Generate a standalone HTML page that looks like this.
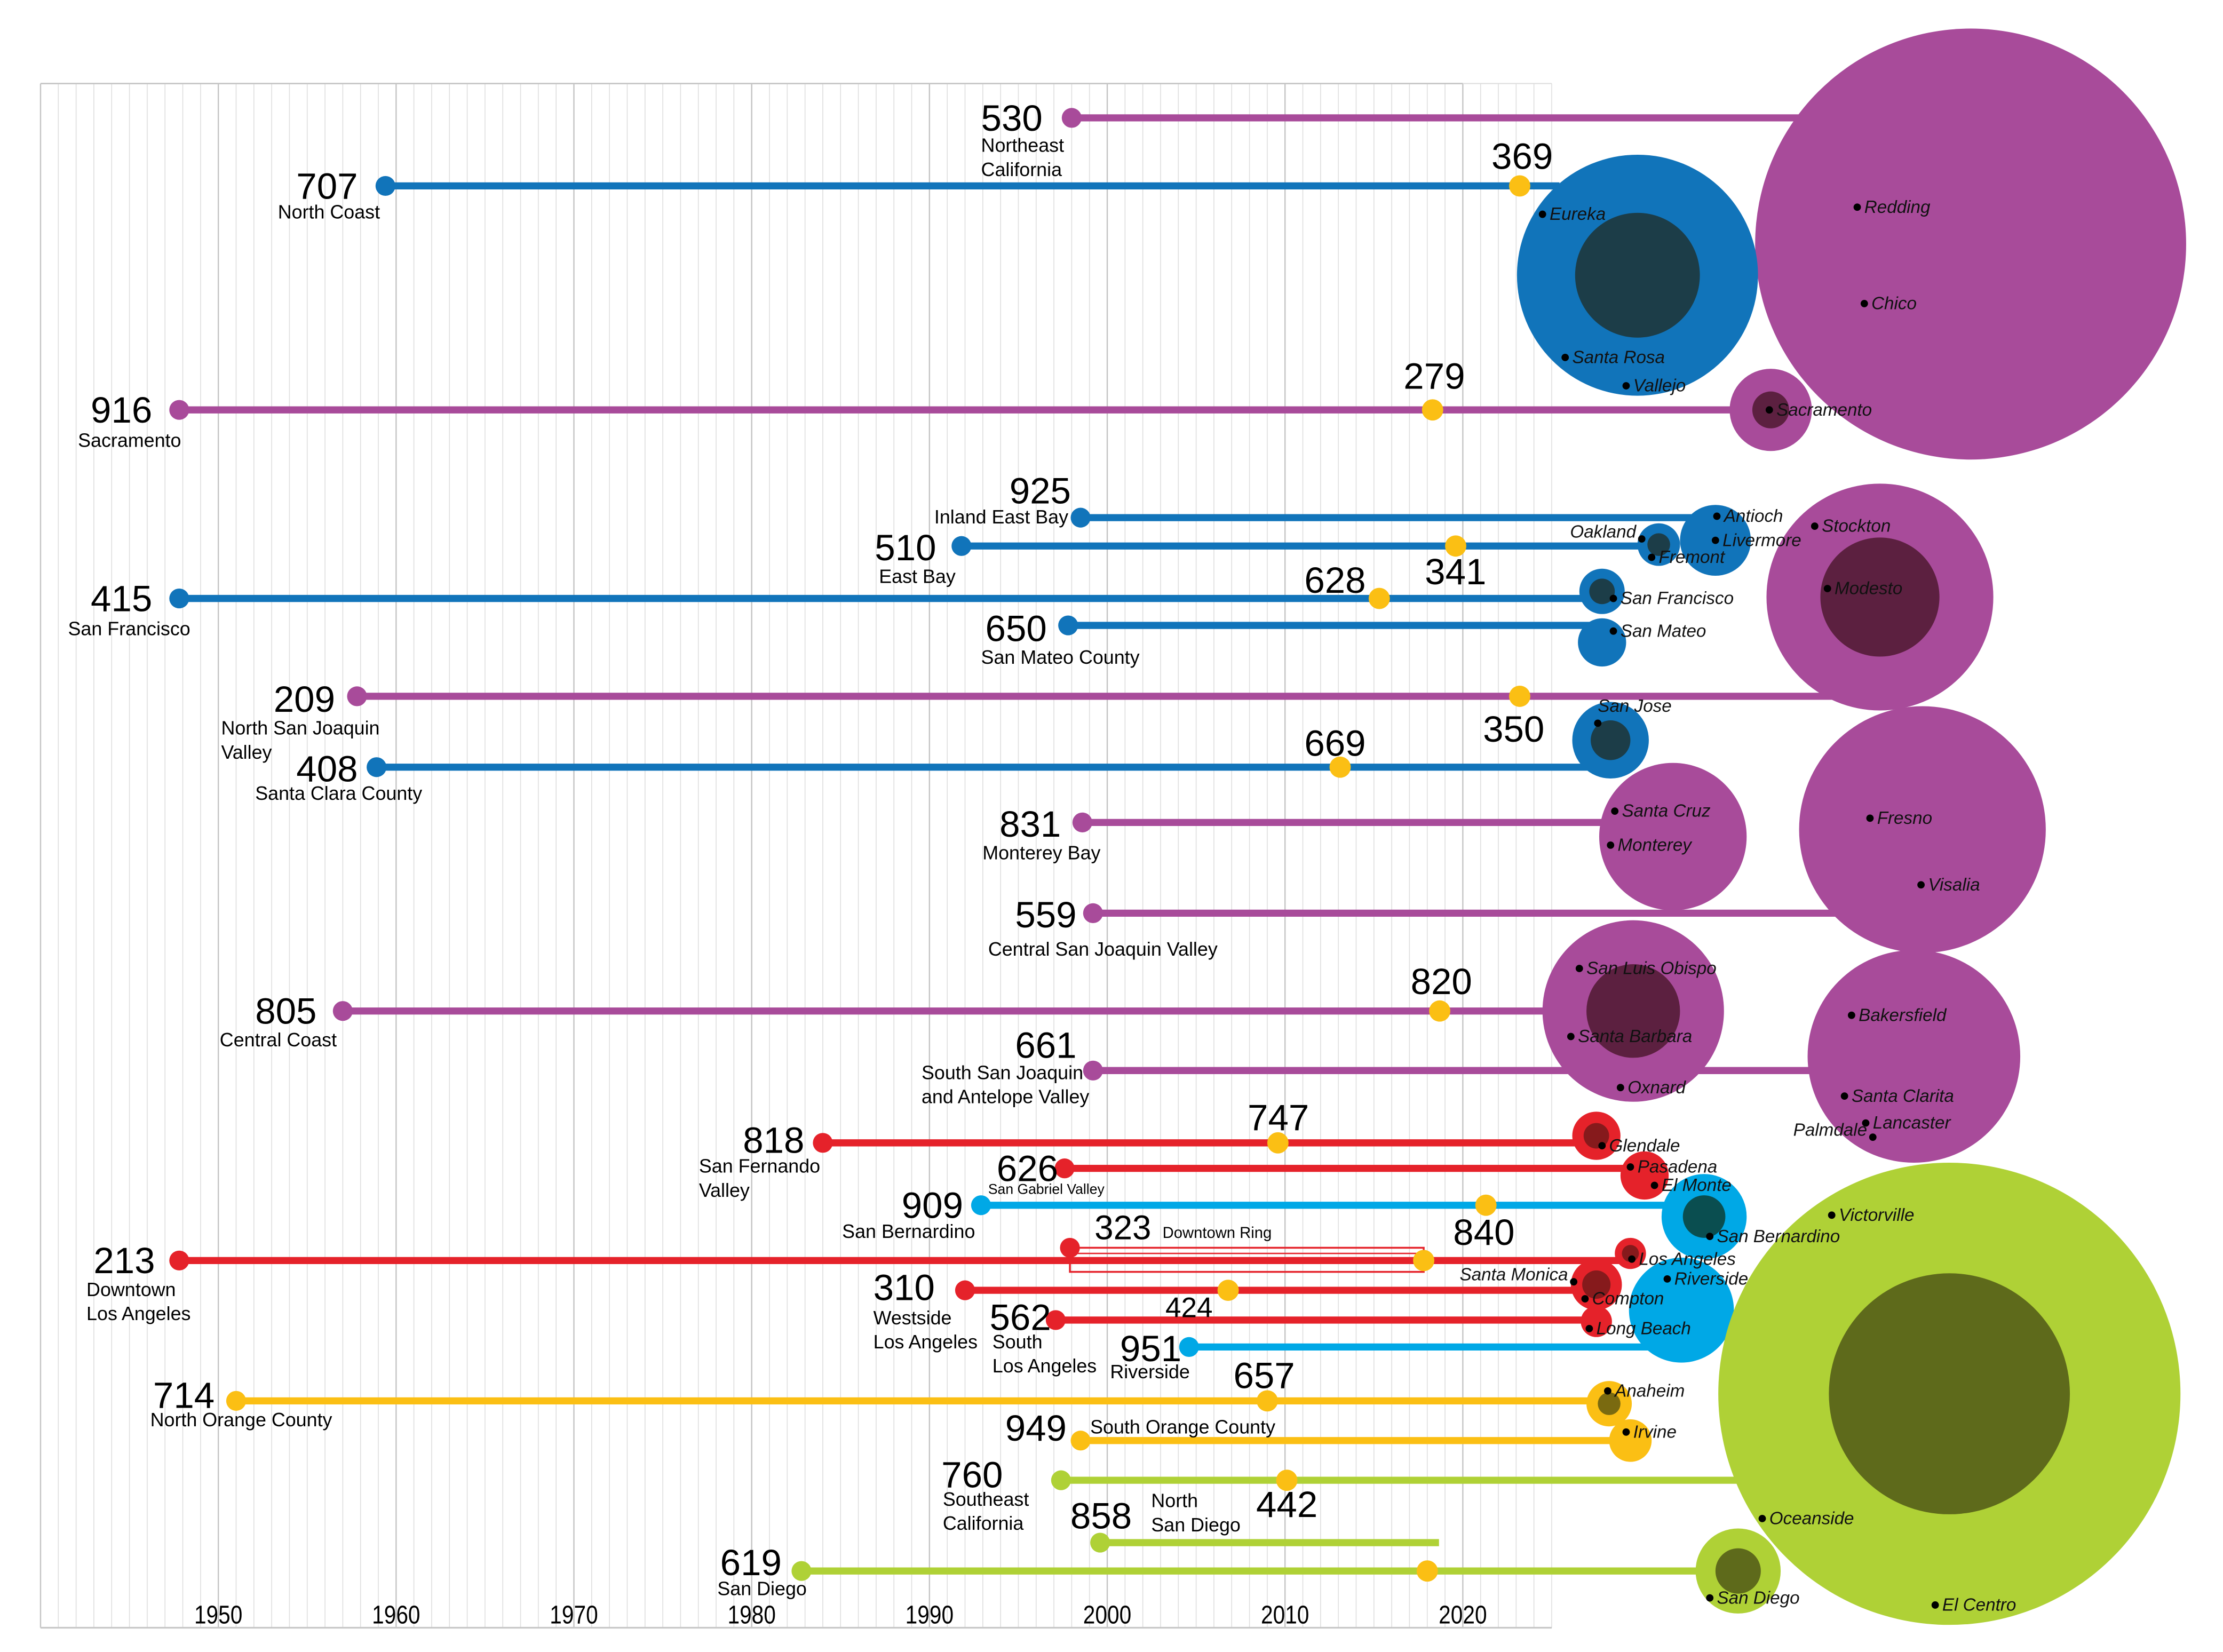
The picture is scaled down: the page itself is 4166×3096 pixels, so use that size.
<!DOCTYPE html>
<html><head><meta charset="utf-8"><style>
html,body{margin:0;padding:0;background:#fff;}
svg{display:block;}
text{font-family:"Liberation Sans",sans-serif;}
</style></head><body>
<svg id="chart" xmlns="http://www.w3.org/2000/svg" width="4166" height="3096" viewBox="0 0 1568 1165">
<g id="grid"></g>
<g id="lines"></g>
<g id="circles"></g>
<g id="dots"></g>
<g id="cities"></g>
<g id="labels"></g>
<g id="axis"></g>
</svg>
<script>
const codes=["530","707","916","925","510","415","650","209","408","831","559","805","661","818","626","909","213","310","562","951","714","949","760","858","619"];
const regions=[["Northeast","California"],["North Coast"],["Sacramento"],["Inland East Bay"],["East Bay"],["San Francisco"],["San Mateo County"],["North San Joaquin","Valley"],["Santa Clara County"],["Monterey Bay"],["Central San Joaquin Valley"],["Central Coast"],["South San Joaquin","and Antelope Valley"],["San Fernando","Valley"],["San Gabriel Valley"],["San Bernardino"],["Downtown","Los Angeles"],["Westside","Los Angeles"],["South","Los Angeles"],["Riverside"],["North Orange County"],["South Orange County"],["Southeast","California"],["North","San Diego"],["San Diego"]];
const startYears=[1998,1959.4,1947.8,1998.5,1991.8,1947.8,1997.8,1957.8,1958.9,1998.6,1999.2,1957,1999.2,1984,1997.6,1992.9,1947.8,1992,1997.1,2004.6,1951,1998.5,1997.4,1999.6,1982.8];
const overlayCodes=["","369","279","","341","628","","350","669","","","820","","747","","840","","424","","","657","","442","",""];
const overlayYears=[null,2023.2,2018.3,null,2019.6,2015.3,null,2023.2,2013.1,null,null,2018.7,null,2009.6,null,2021.3,2017.8,2006.8,null,null,2009,null,2010.1,null,2018];
const groups=["p","b","p","b","b","b","b","p","b","p","p","p","p","r","r","c","r","r","r","c","y","y","l","l","l"];
// layout (row positions, line ends, label positions)
const rowY=[83,131,289,365,385,422,441,491,541,580,644,713,755,806,824,850,889,910,931,950,988,1016,1044,1088,1108];
const endX=[1300,1100,1248,1210,1170,1130,1130,1300,1136,1180,1320,1152,1320,1126,1160,1202,1150,1125,1125,1190,1133,1150,1240,1015,1226];
const numPos=[[692,92],[209,140],[64,298],[712,355],[617,395],[64,431],[695,452],[193,502],[209,551],[705,590],[716,654],[180,722],[716,746],[524,813],[703,833],[636,859],[66,898],[616,917],[698,938],[790,960],[108,993],[709,1016],[664,1049],[755,1078],[508,1111]];
const namePos=[[692,107],[196,154],[55,315],[659,369],[620,411],[48,448],[692,468],[156,518],[180,564],[693,606],[697,674],[155,738],[650,761],[493,827],[697,842],[594,873],[61,914],[616,934],[700,951],[783,972],[106,1006],[769,1011],[665,1062],[812,1063],[506,1125]];
const ovPos=[null,[1052,119],[990,274],null,[1005,412],[920,418],null,[1046,523],[920,533],null,null,[995,701],null,[880,797],null,[1025,878],null,[822,929],null,null,[870,979],null,[886,1070],null,null];
const col={p:"#a84b9a",b:"#1174ba",c:"#00a8e6",r:"#e5222a",y:"#fbbf14",l:"#afd136"};
const dark={p:"#5c2040",b:"#1c3d48",c:"#0a4e50",r:"#861a1c",y:"#7a6a10",l:"#5e6a1b"};
const circles=[["p",1390,172,152,0],["b",1155,194,85,44],["p",1249,289,29,13],["b",1210,381,25,0],["b",1170,384,15,8],["b",1130,417,16,9],["b",1130,453,17,0],["p",1326,421,80,42],["b",1136,522,27,14],["p",1356,585,87,0],["p",1180,590,52,0],["p",1152,713,64,33],["p",1350,745,75,0],["r",1126,801,17,9],["r",1160,829,17,0],["c",1202,858,30,15],["r",1150,884,11,6],["r",1126,906,18,10],["c",1186,924,37,0],["r",1126,932,11,0],["y",1135,990,16,8],["y",1150,1016,15,0],["l",1375,983,163,85],["l",1226,1108,30,16]];
const cities=[["Eureka",1088,151],["Redding",1310,146],["Chico",1315,214],["Santa Rosa",1104,252],["Vallejo",1147,272],["Sacramento",1248,289],["Antioch",1211,364],["Stockton",1280,371],["Oakland",1158,380,1],["Livermore",1210,381],["Fremont",1165,393],["Modesto",1289,415],["San Francisco",1138,422],["San Mateo",1138,445],["San Jose",1127,510,2],["Santa Cruz",1139,572],["Fresno",1319,577],["Monterey",1136,596],["Visalia",1355,624],["San Luis Obispo",1114,683],["Bakersfield",1306,716],["Santa Barbara",1108,731],["Oxnard",1143,767],["Santa Clarita",1301,773],["Lancaster",1316,792],["Palmdale",1321,802,1],["Glendale",1130,808],["Pasadena",1150,823],["El Monte",1167,836],["Victorville",1292,857],["San Bernardino",1206,872],["Los Angeles",1151,888],["Santa Monica",1110,904,1],["Riverside",1176,902],["Compton",1118,916],["Long Beach",1121,937],["Anaheim",1134,981],["Irvine",1147,1010],["Oceanside",1243,1071],["El Centro",1365,1132],["San Diego",1206,1127]];
const decades=[1950,1960,1970,1980,1990,2000,2010,2020];

const NS="http://www.w3.org/2000/svg";
const X=y=>154+(y-1950)*12.54;
function mk(p,tag,at,txt){const e=document.createElementNS(NS,tag);for(const k in at)e.setAttribute(k,at[k]);if(txt!=null)e.textContent=txt;p.appendChild(e);return e;}
const G=id=>document.getElementById(id);

// grid
const g=G("grid");
for(let yr=1940;yr<=2025;yr++){const x=X(yr);const dec=yr%10===0&&yr<=2020;
 const l=mk(g,"line",{x1:x,x2:x,y1:58.8,y2:1148,stroke:dec?"#c4c4c4":"#dedede","stroke-width":dec?0.9:0.6});
 
 }
let b=mk(g,"line",{x1:X(1940),x2:X(2025),y1:58.8,y2:58.8,stroke:"#dedede","stroke-width":0.8});
b=mk(g,"line",{x1:X(1940),x2:X(2020),y1:58.8,y2:58.8,stroke:"#c4c4c4","stroke-width":1});
b=mk(g,"line",{x1:X(1940),x2:X(2025),y1:1148,y2:1148,stroke:"#c8c8c8","stroke-width":1.2});
// axis labels
const ax=G("axis");
decades.forEach(d=>{const t=mk(ax,"text",{x:X(d),y:1145,"text-anchor":"middle","font-size":18,fill:"#000",transform:`translate(${X(d)},0) scale(0.85,1) translate(${-X(d)},0)`},String(d));
 
 });

// 323 downtown ring box
const ln=G("lines");
const rb=mk(ln,"rect",{x:X(1997.9),y:880,width:X(2017.8)-X(1997.9),height:17,fill:"none",stroke:"#e5222a","stroke-width":1.3});


mk(ln,"line",{x1:X(1997.9),x2:X(2017.8),y1:884,y2:884,stroke:"#e5222a","stroke-width":1});

codes.forEach((c,i)=>{const y=rowY[i];const x0=X(startYears[i]);const cl=col[groups[i]];
 const l=mk(ln,"line",{x1:x0,x2:endX[i],y1:y,y2:y,stroke:cl,"stroke-width":5});
 
 });

const cg=G("circles");
circles.forEach((k,i)=>{const o=mk(cg,"circle",{cx:k[1],cy:k[2],r:k[3],fill:col[k[0]]});
 
 
 if(k[4]){const n=mk(cg,"circle",{cx:k[1],cy:k[2],r:k[4],fill:dark[k[0]]});
 
 }});

const dg=G("dots"),lg=G("labels");
codes.forEach((c,i)=>{const y=rowY[i];const cl=col[groups[i]];
 const d=mk(dg,"circle",{cx:X(startYears[i]),cy:y,r:7,fill:cl});
 
 
 if(overlayYears[i]!=null){const o=mk(dg,"circle",{cx:X(overlayYears[i]),cy:y,r:7.5,fill:"#fbbf14"});
  
  }
 const n=mk(lg,"text",{x:numPos[i][0],y:numPos[i][1],"font-size":26,fill:"#000"},c);
 
 
 const small=(c==="626");
 regions[i].forEach((r,j)=>{const t=mk(lg,"text",{x:namePos[i][0],y:namePos[i][1]+j*17,"font-size":small?10:13.5,fill:"#000"},r);
  
  });
 if(overlayCodes[i]){const p=ovPos[i];const t=mk(lg,"text",{x:p[0],y:p[1],"font-size":c==="310"?20:26,fill:"#000"},overlayCodes[i]);
  
  }
});
// 323 Downtown Ring
const d323=mk(dg,"circle",{cx:X(1997.9),cy:880,r:7,fill:"#e5222a"});


let t=mk(lg,"text",{x:772,y:874,"font-size":24,fill:"#000"},"323");


t=mk(lg,"text",{x:820,y:873,"font-size":11,fill:"#000"},"Downtown Ring");



const ct=G("cities");
cities.forEach(k=>{const m=mk(ct,"circle",{cx:k[1],cy:k[2],r:2.6,fill:"#000"});
 
 
 let at;
 if(k[3]===1)at={x:k[1]-4,y:k[2]-1,"text-anchor":"end"};
 else if(k[3]===2)at={x:k[1],y:k[2]-8};
 else at={x:k[1]+5,y:k[2]+4};
 at["font-size"]=12.5;at["font-style"]="italic";at.fill="#111";
 const tt=mk(ct,"text",at,k[0]);
 
 });
</script>
</body></html>
